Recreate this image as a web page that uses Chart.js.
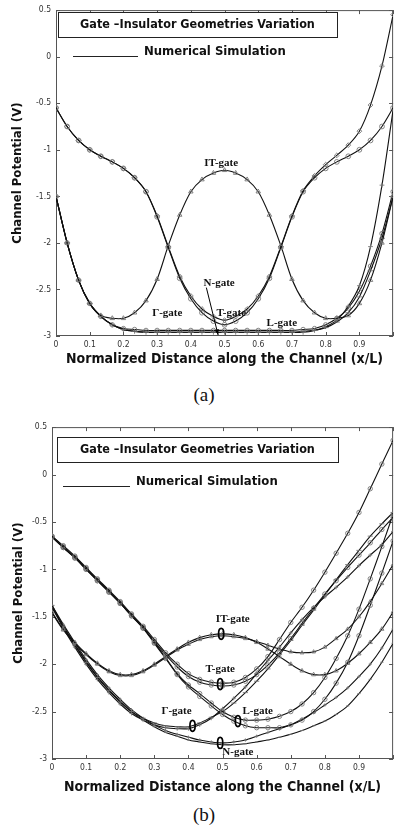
<!DOCTYPE html>
<html>
<head>
<meta charset="utf-8">
<script src="https://cdn.jsdelivr.net/npm/chart.js@4.4.1/dist/chart.umd.min.js"></script>
<style>
  body { margin: 0; background: #fff; width: 398px; height: 829px; position: relative; overflow: hidden; }
  canvas { position: absolute; left: 0; }
  #chartA { top: 0; }
  #chartB { top: 417px; }
  .cap { position: absolute; left: 0; width: 408px; text-align: center; font-family: "Liberation Serif", serif; font-size: 19px; line-height: 22px; color: #111; }
</style>
</head>
<body>
<canvas id="chartA" width="398" height="375"></canvas>
<canvas id="chartB" width="398" height="385"></canvas>
<div class="cap" style="top:384px">(a)</div>
<div class="cap" style="top:804px">(b)</div>
<script>
// x positions of the simulated points (x/L)
const xPos = [0,0.033,0.067,0.1,0.133,0.167,0.2,0.233,0.267,0.3,0.333,0.367,0.4,0.433,0.467,0.5,
              0.533,0.567,0.6,0.633,0.667,0.7,0.733,0.767,0.8,0.833,0.867,0.9,0.933,0.967,1];
const xTicks = [0,0.1,0.2,0.3,0.4,0.5,0.6,0.7,0.8,0.9,1];
const xTickLabels = ['0','0.1','0.2','0.3','0.4','0.5','0.6','0.7','0.8','0.9',''];
const yTicks = [-3,-2.5,-2,-1.5,-1,-0.5,0,0.5];
const yTickLabels = ['-3','-2.5','-2','-1.5','-1','-0.5','0','0.5'];

// (a) channel potential, V
const aT  = [-0.55,-0.75,-0.9,-1.0,-1.07,-1.13,-1.2,-1.3,-1.45,-1.72,-2.05,-2.38,-2.6,-2.75,-2.84,-2.88,-2.84,-2.75,-2.6,-2.38,-2.05,-1.72,-1.45,-1.3,-1.2,-1.13,-1.07,-1.0,-0.9,-0.75,-0.55];
const aX  = [-0.55,-0.75,-0.9,-1.0,-1.07,-1.13,-1.2,-1.3,-1.45,-1.71,-2.04,-2.36,-2.57,-2.71,-2.79,-2.83,-2.79,-2.71,-2.57,-2.36,-2.04,-1.71,-1.44,-1.28,-1.16,-1.06,-0.95,-0.8,-0.52,-0.1,0.45];
const aIT = [-1.5,-2.0,-2.4,-2.65,-2.78,-2.81,-2.81,-2.75,-2.62,-2.39,-2.03,-1.7,-1.45,-1.32,-1.25,-1.22,-1.25,-1.32,-1.45,-1.7,-2.03,-2.39,-2.62,-2.75,-2.81,-2.81,-2.78,-2.65,-2.4,-2.0,-1.5];
const aG  = [-1.5,-2.0,-2.4,-2.65,-2.79,-2.88,-2.93,-2.95,-2.96,-2.96,-2.96,-2.96,-2.96,-2.96,-2.96,-2.96,-2.96,-2.96,-2.96,-2.96,-2.96,-2.96,-2.95,-2.94,-2.91,-2.85,-2.75,-2.58,-2.3,-1.95,-1.5];
const aN  = [-1.5,-2.0,-2.4,-2.65,-2.79,-2.88,-2.93,-2.95,-2.96,-2.96,-2.96,-2.96,-2.96,-2.96,-2.96,-2.96,-2.96,-2.96,-2.96,-2.96,-2.96,-2.96,-2.96,-2.94,-2.9,-2.83,-2.68,-2.46,-2.04,-1.38,-0.57];
const aL  = [-1.5,-2.0,-2.4,-2.65,-2.79,-2.88,-2.92,-2.93,-2.94,-2.94,-2.94,-2.94,-2.94,-2.94,-2.94,-2.94,-2.94,-2.94,-2.94,-2.94,-2.94,-2.94,-2.93,-2.92,-2.88,-2.81,-2.7,-2.52,-2.25,-1.9,-1.45];

// (b) channel potential, V
const bTa  = [-0.65,-0.75,-0.86,-0.98,-1.1,-1.22,-1.34,-1.47,-1.6,-1.74,-1.88,-2.0,-2.1,-2.16,-2.19,-2.2,-2.19,-2.14,-2.05,-1.92,-1.74,-1.56,-1.4,-1.22,-1.03,-0.83,-0.62,-0.4,-0.15,0.11,0.36];
const bTb  = [-0.66,-0.77,-0.88,-1.0,-1.12,-1.24,-1.36,-1.49,-1.62,-1.76,-1.9,-2.03,-2.13,-2.19,-2.22,-2.23,-2.22,-2.18,-2.11,-2.01,-1.88,-1.73,-1.57,-1.41,-1.26,-1.12,-0.98,-0.85,-0.72,-0.58,-0.45];
const bITa = [-1.45,-1.63,-1.77,-1.89,-1.99,-2.07,-2.11,-2.11,-2.07,-2.0,-1.92,-1.84,-1.77,-1.72,-1.69,-1.68,-1.69,-1.72,-1.77,-1.84,-1.92,-2.0,-2.07,-2.11,-2.11,-2.07,-1.99,-1.89,-1.77,-1.63,-1.45];
const bITb = [-1.46,-1.64,-1.78,-1.9,-2.0,-2.08,-2.12,-2.12,-2.08,-2.01,-1.93,-1.85,-1.79,-1.74,-1.71,-1.7,-1.71,-1.73,-1.76,-1.8,-1.84,-1.87,-1.88,-1.87,-1.82,-1.73,-1.63,-1.5,-1.34,-1.15,-0.95];
const bLa  = [-0.65,-0.76,-0.87,-0.99,-1.11,-1.23,-1.35,-1.48,-1.61,-1.77,-1.93,-2.1,-2.22,-2.31,-2.41,-2.5,-2.56,-2.59,-2.59,-2.58,-2.55,-2.5,-2.42,-2.3,-2.14,-1.94,-1.7,-1.42,-1.1,-0.76,-0.42];
const bLb  = [-0.66,-0.77,-0.88,-1.0,-1.12,-1.24,-1.36,-1.49,-1.62,-1.78,-1.94,-2.11,-2.24,-2.34,-2.44,-2.53,-2.6,-2.65,-2.67,-2.67,-2.67,-2.64,-2.59,-2.5,-2.37,-2.2,-1.98,-1.7,-1.38,-1.04,-0.7];
const bGa  = [-1.38,-1.6,-1.8,-1.98,-2.14,-2.28,-2.4,-2.5,-2.57,-2.62,-2.65,-2.66,-2.66,-2.62,-2.56,-2.5,-2.41,-2.3,-2.18,-2.05,-1.9,-1.75,-1.59,-1.43,-1.27,-1.11,-0.95,-0.8,-0.65,-0.52,-0.4];
const bGb  = [-1.4,-1.62,-1.82,-2.0,-2.16,-2.3,-2.42,-2.52,-2.59,-2.64,-2.67,-2.68,-2.68,-2.64,-2.57,-2.47,-2.36,-2.24,-2.1,-1.96,-1.82,-1.67,-1.53,-1.4,-1.29,-1.19,-1.08,-0.96,-0.85,-0.74,-0.6];
const bNa  = [-1.38,-1.58,-1.77,-1.95,-2.11,-2.25,-2.37,-2.48,-2.57,-2.64,-2.7,-2.74,-2.77,-2.8,-2.82,-2.83,-2.82,-2.8,-2.76,-2.72,-2.68,-2.64,-2.58,-2.51,-2.43,-2.35,-2.25,-2.13,-2.0,-1.83,-1.63];
const bNb  = [-1.4,-1.6,-1.79,-1.97,-2.13,-2.27,-2.39,-2.5,-2.59,-2.66,-2.72,-2.76,-2.8,-2.82,-2.84,-2.85,-2.85,-2.84,-2.82,-2.8,-2.77,-2.74,-2.7,-2.65,-2.6,-2.53,-2.44,-2.31,-2.16,-1.98,-1.78];

const SANS = '"DejaVu Sans Condensed", "DejaVu Sans", sans-serif';
const SERIF = '"Liberation Serif", "DejaVu Serif", serif';

// MATLAB style box with inward ticks
const frame = {
  id: 'frame',
  beforeDatasetsDraw(chart) {
    const { ctx, chartArea: a, scales: { x, y } } = chart;
    ctx.save();
    ctx.strokeStyle = '#555';
    ctx.lineWidth = 1;
    ctx.strokeRect(a.left + 0.5, a.top + 0.5, a.right - a.left - 1, a.bottom - a.top - 1);
    ctx.beginPath();
    xTicks.forEach(v => {
      const px = Math.round(x.getPixelForValue(v)) + 0.5;
      ctx.moveTo(px, a.bottom); ctx.lineTo(px, a.bottom - 4);
      ctx.moveTo(px, a.top); ctx.lineTo(px, a.top + 4);
    });
    yTicks.forEach(v => {
      const py = Math.round(y.getPixelForValue(v)) + 0.5;
      ctx.moveTo(a.left, py); ctx.lineTo(a.left + 4, py);
      ctx.moveTo(a.right, py); ctx.lineTo(a.right - 4, py);
    });
    ctx.stroke();
    ctx.restore();
  }
};

// title box, legend line, gate labels
const notes = {
  id: 'notes',
  afterDatasetsDraw(chart, args, o) {
    const { ctx, scales: { x, y } } = chart;
    ctx.save();
    ctx.fillStyle = '#fff';
    ctx.fillRect(o.box[0], o.box[1], o.box[2] - o.box[0], o.box[3] - o.box[1]);
    ctx.strokeStyle = '#222';
    ctx.lineWidth = 1;
    ctx.strokeRect(o.box[0] + 0.5, o.box[1] + 0.5, o.box[2] - o.box[0], o.box[3] - o.box[1]);
    ctx.fillStyle = '#111';
    ctx.font = 'bold 12.5px ' + SANS;
    ctx.textAlign = 'center';
    ctx.textBaseline = 'middle';
    ctx.fillText('Gate \u2013Insulator Geometries Variation', (o.box[0] + o.box[2]) / 2, (o.box[1] + o.box[3]) / 2 + 0.5);
    ctx.beginPath();
    ctx.moveTo(o.leg[0], o.leg[2] + 0.5); ctx.lineTo(o.leg[1], o.leg[2] + 0.5);
    ctx.stroke();
    ctx.textAlign = 'left';
    ctx.font = 'bold 13px ' + SANS;
    ctx.fillText('Numerical Simulation', o.leg[1] + 6, o.leg[2] - 4);

    ctx.font = 'bold 11px ' + SERIF;
    ctx.textAlign = 'center';
    o.labels.forEach(l => ctx.fillText(l.t, x.getPixelForValue(l.x), y.getPixelForValue(l.y)));

    ctx.lineWidth = 1.7;
    ctx.strokeStyle = '#000';
    (o.rings || []).forEach(r => {
      ctx.beginPath();
      ctx.ellipse(x.getPixelForValue(r[0]), y.getPixelForValue(r[1]), 2.6, 5.5, 0, 0, Math.PI * 2);
      ctx.stroke();
    });
    if (o.arrow) {
      const x0 = x.getPixelForValue(o.arrow[0]), y0 = y.getPixelForValue(o.arrow[1]);
      const x1 = x.getPixelForValue(o.arrow[2]), y1 = y.getPixelForValue(o.arrow[3]);
      ctx.lineWidth = 1;
      ctx.beginPath(); ctx.moveTo(x0, y0); ctx.lineTo(x1, y1); ctx.stroke();
      const ang = Math.atan2(y1 - y0, x1 - x0);
      ctx.beginPath();
      ctx.moveTo(x1, y1);
      ctx.lineTo(x1 - 6 * Math.cos(ang - 0.35), y1 - 6 * Math.sin(ang - 0.35));
      ctx.lineTo(x1 - 6 * Math.cos(ang + 0.35), y1 - 6 * Math.sin(ang + 0.35));
      ctx.closePath();
      ctx.fillStyle = '#000';
      ctx.fill();
    }
    ctx.restore();
  }
};

function series(vals, style, r) {
  return {
    data: vals.map((v, i) => ({ x: xPos[i], y: v })),
    borderColor: '#111',
    borderWidth: 1.1,
    pointStyle: style,
    pointRadius: r,
    pointBorderColor: '#777',
    pointBorderWidth: 0.9,
    pointBackgroundColor: 'rgba(0,0,0,0)',
    tension: 0.3,
    fill: false
  };
}

function makeChart(id, datasets, yW, xH, titlePad, yTitlePad, noteOpts) {
  return new Chart(document.getElementById(id), {
    type: 'line',
    data: { datasets },
    options: {
      responsive: false,
      animation: false,
      layout: { padding: { top: 10, right: 1, left: 0, bottom: 0 } },
      plugins: { legend: { display: false }, tooltip: { enabled: false }, notes: noteOpts },
      scales: {
        x: {
          type: 'linear', min: 0, max: 1,
          afterBuildTicks: s => { s.ticks = xTicks.map(v => ({ value: v })); },
          afterFit: s => { s.height = xH; },
          grid: { display: false, drawTicks: false }, border: { display: false },
          ticks: { callback: (v, i) => xTickLabels[i], autoSkip: false, maxRotation: 0, padding: 4,
                   color: '#333', font: { family: SANS, size: 8.5 } },
          title: { display: true, text: 'Normalized Distance along the Channel (x/L)', color: '#111',
                   font: { family: SANS, size: 14, weight: 'bold' }, padding: { top: 0, bottom: titlePad } }
        },
        y: {
          min: -3, max: 0.5,
          afterBuildTicks: s => { s.ticks = yTicks.map(v => ({ value: v })); },
          afterFit: s => { s.width = yW; },
          grid: { display: false, drawTicks: false }, border: { display: false },
          ticks: { callback: (v, i) => yTickLabels[i], autoSkip: false, padding: 5,
                   color: '#333', font: { family: SANS, size: 8.5 } },
          title: { display: true, text: 'Channel Potential (V)', color: '#111',
                   font: { family: SANS, size: 13, weight: 'bold' }, padding: { top: yTitlePad, bottom: 0 } }
        }
      }
    },
    plugins: [frame, notes]
  });
}

makeChart('chartA', [
  series(aT, 'circle', 2.4),
  series(aX, 'rectRot', 2.4),
  series(aIT, 'triangle', 2.6),
  series(aG, 'line', 3),
  series(aN, 'cross', 2.4),
  series(aL, 'circle', 2.2)
], 56, 39, 7, 10, {
  box: [58, 12, 337, 37],
  leg: [73, 138, 56],
  labels: [
    { t: 'IT-gate', x: 0.49, y: -1.14 },
    { t: 'N-gate', x: 0.484, y: -2.43 },
    { t: 'T-gate', x: 0.52, y: -2.75 },
    { t: '\u0393-gate', x: 0.33, y: -2.76 },
    { t: 'L-gate', x: 0.67, y: -2.86 }
  ],
  arrow: [0.446, -2.48, 0.481, -2.99]
});

makeChart('chartB', [
  series(bTa, 'circle', 2.2),
  series(bTb, 'circle', 2.2),
  series(bITa, 'triangle', 2.4),
  series(bITb, 'triangle', 2.2),
  series(bLa, 'circle', 2.2),
  series(bLb, 'circle', 2.2),
  series(bGa, 'line', 2.6),
  series(bGb, 'cross', 2),
  series(bNa, 'cross', 1.6),
  series(bNb, 'line', 1.6)
], 52, 43, 6, 11, {
  box: [57, 20, 338, 45],
  leg: [63, 130, 69],
  labels: [
    { t: 'IT-gate', x: 0.53, y: -1.53 },
    { t: 'T-gate', x: 0.493, y: -2.05 },
    { t: '\u0393-gate', x: 0.365, y: -2.5 },
    { t: 'L-gate', x: 0.603, y: -2.5 },
    { t: 'N-gate', x: 0.545, y: -2.93 }
  ],
  rings: [[0.496, -1.68], [0.493, -2.21], [0.412, -2.65], [0.545, -2.6], [0.493, -2.83]]
});
</script>
</body>
</html>
